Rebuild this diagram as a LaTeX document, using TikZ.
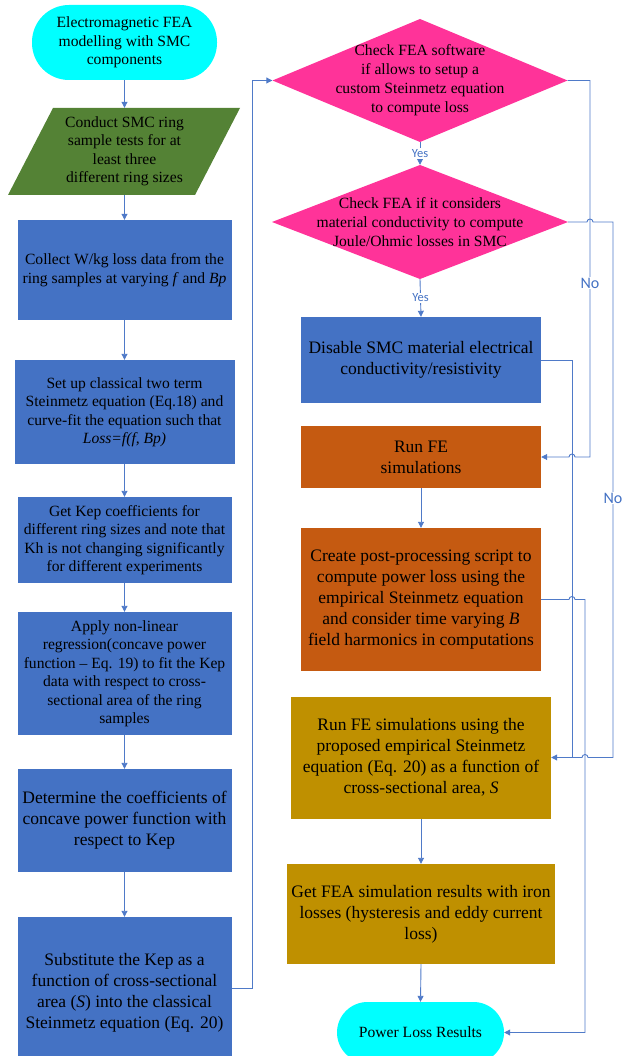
\documentclass[tikz,border=0pt]{standalone}
\usepackage{fontspec}
\setmainfont{Liberation Serif}
\newfontfamily\calib{Carlito}
\usetikzlibrary{arrows.meta}
\definecolor{cyanT}{RGB}{0,255,255}
\definecolor{greenP}{RGB}{84,130,53}
\definecolor{blueB}{RGB}{68,114,196}
\definecolor{pinkD}{RGB}{255,51,153}
\definecolor{orangeB}{RGB}{197,90,17}
\definecolor{goldB}{RGB}{191,144,0}
\definecolor{lineC}{RGB}{79,122,200}
\definecolor{labC}{RGB}{68,114,196}
\tikzset{
 box/.style={rectangle, inner sep=0pt, align=center, text=black},
 small/.style={font=\fontsize{15.6}{18.5}\selectfont},
 large/.style={font=\fontsize{17.5}{21}\selectfont},
 conn/.style={draw=lineC, line width=0.9pt},
 arr/.style={conn, -{Triangle[length=6pt,width=6pt]}},
 yeslab/.style={font=\calib\fontsize{12.5}{14}\selectfont, text=labC, fill=white, inner sep=1pt},
 nolab/.style={font=\calib\fontsize{16}{18}\selectfont, text=labC, fill=white, inner sep=1pt},
}
\begin{document}
\begin{tikzpicture}[x=1pt,y=-1pt]
\useasboundingbox (0,0) rectangle (622,1056);
% ---------- left column ----------
\node[box, small, fill=cyanT, rounded corners=37pt, minimum width=185, minimum height=75] (start) at (124.5,42.5) {Electromagnetic FEA\\modelling with SMC\\components};
\fill[greenP] (53,108) -- (240,108) -- (195,195) -- (8,195) -- cycle;
\node[box, small, minimum width=140, minimum height=87] (para) at (124.5,151.5) {Conduct SMC ring\\sample tests for at\\least three\\different ring sizes};
\node[box, small, fill=blueB, minimum width=214, minimum height=100] (b1) at (124.5,270) {Collect W/kg loss data from the\\ring samples at varying \textit{f} and \textit{Bp}};
\node[box, small, fill=blueB, minimum width=220, minimum height=104] (b2) at (124.5,412) {Set up classical two term\\Steinmetz equation (Eq.18) and\\curve-fit the equation such that\\\textit{Loss=f(f, Bp)}};
\node[box, small, fill=blueB, minimum width=214, minimum height=86] (b3) at (124.5,540) {Get Kep coefficients for\\different ring sizes and note that\\Kh is not changing significantly\\for different experiments};
\node[box, small, fill=blueB, minimum width=214, minimum height=123] (b4) at (124.5,673.5) {Apply non-linear\\regression(concave power\\function -- Eq. 19) to fit the Kep\\data with respect to cross-\\sectional area of the ring\\samples};
\node[box, large, fill=blueB, minimum width=214, minimum height=103] (b5) at (124.5,820.5) {Determine the coefficients of\\concave power function with\\respect to Kep};
\node[box, large, fill=blueB, minimum width=214, minimum height=152] (b6) at (124.5,993) {Substitute the Kep as a\\function of cross-sectional\\area (\textit{S}) into the classical\\Steinmetz equation (Eq. 20)};
% ---------- right column ----------
\fill[pinkD] (272.5,80.5) -- (420,19) -- (567.5,80.5) -- (420,142) -- cycle;
\node[box, font=\fontsize{15.6}{19}\selectfont, minimum width=295, minimum height=123] (d1) at (420,80.5) {Check FEA software\\if allows to setup a\\custom Steinmetz equation\\to compute loss};
\fill[pinkD] (272,222) -- (420,165) -- (568,222) -- (420,279) -- cycle;
\node[box, font=\fontsize{15.6}{19}\selectfont, minimum width=296, minimum height=114] (d2) at (420,222) {Check FEA if it considers\\material conductivity to compute\\Joule/Ohmic losses in SMC};
\node[box, large, fill=blueB, minimum width=240, minimum height=86] (dis) at (421,360) {Disable SMC material electrical\\conductivity/resistivity};
\node[box, large, fill=orangeB, minimum width=240, minimum height=62] (rf1) at (421,457) {Run FE\\simulations};
\node[box, large, fill=orangeB, minimum width=240, minimum height=143] (pp) at (421,599.5) {Create post-processing script to\\compute power loss using the\\empirical Steinmetz equation\\and consider time varying \textit{B}\\field harmonics in computations};
\node[box, large, fill=goldB, minimum width=260, minimum height=122] (rf2) at (421,757.5) {Run FE simulations using the\\proposed empirical Steinmetz\\equation (Eq. 20) as a function of\\cross-sectional area, \textit{S}};
\node[box, large, fill=goldB, minimum width=268, minimum height=100] (gf) at (421,914) {Get FEA simulation results with iron\\losses (hysteresis and eddy current\\loss)};
\node[box, small, fill=cyanT, rounded corners=30.5pt, minimum width=167, minimum height=61] (plr) at (420.5,1032.5) {Power Loss Results};
% ---------- connectors, left ----------
\draw[arr] (start.south) -- (para.north);
\draw[arr] (para.south) -- (b1.north);
\draw[arr] (b1.south) -- (b2.north);
\draw[arr] (b2.south) -- (b3.north);
\draw[arr] (b3.south) -- (b4.north);
\draw[arr] (b4.south) -- (b5.north);
\draw[arr] (b5.south) -- (b6.north);
\draw[arr] ([yshift=5pt]b6.east) -- (252,988) -- (252,80.5) -- (d1.west);
% ---------- connectors, right ----------
\draw[arr] (d1.south) -- node[yeslab] (yes1) {Yes} (d2.north);
\draw[arr] (d2.south) -- node[yeslab] (yes2) {Yes} (dis.north);
\draw[arr] (rf1.south) -- (pp.north);
\draw[arr] (rf2.south) -- (gf.north);
\draw[arr] (gf.south) -- (plr.north);
% No from d1 to Run FE
\draw[arr] (d1.east) -- (590,80.5) -- (590,457) -- (575,457) arc[start angle=0,end angle=-180,radius=3] -- (rf1.east);
\node[nolab] (no1) at (590,283) {No};
% No from d2 to Run FE using proposed
\draw[arr] (d2.east) -- (587,222) arc[start angle=180,end angle=360,radius=3] -- (613,222) -- (613,757.5) -- (588,757.5) arc[start angle=0,end angle=-180,radius=3] -- (rf2.east);
\node[nolab] (no2) at (613,498) {No};
% Disable to join
\coordinate (j1) at (572,757.5);
\draw[conn] (dis.east) -| (j1);
% post-processing to results
\draw[arr] (pp.east) -- (569,599.5) arc[start angle=180,end angle=360,radius=3] -- (585,599.5) -- (585,1032.5) -- (plr.east);
\end{tikzpicture}
\end{document}
